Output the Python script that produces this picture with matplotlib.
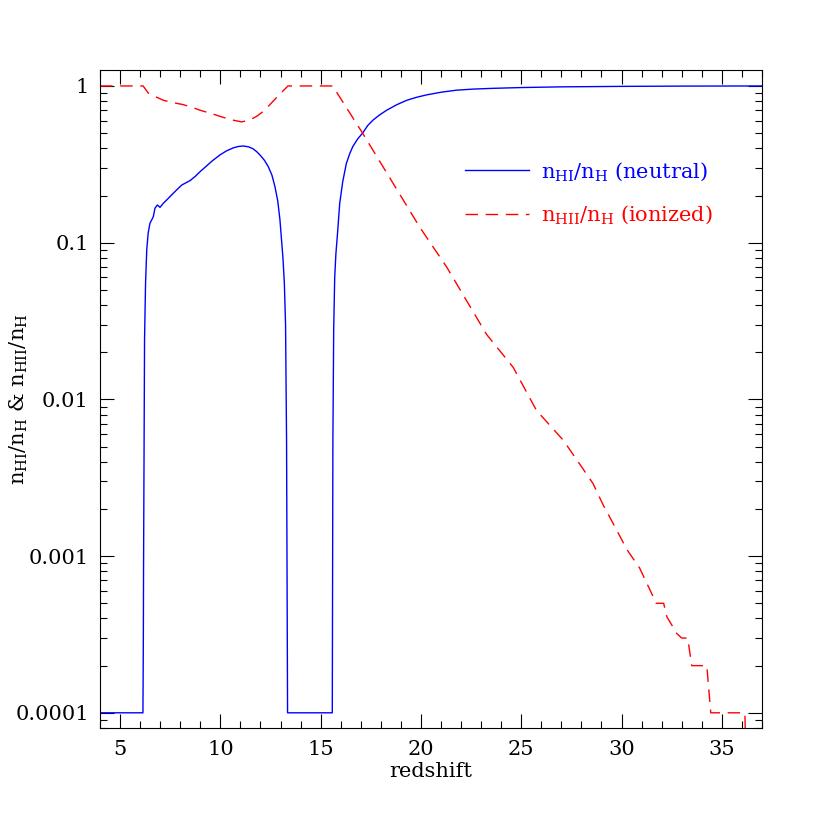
import numpy as np
import matplotlib
matplotlib.use('Agg')
import matplotlib.pyplot as plt
from matplotlib.ticker import FixedLocator, NullFormatter

plt.rcParams['font.family'] = 'DejaVu Serif'
plt.rcParams['mathtext.fontset'] = 'dejavuserif'

# neutral fraction n_HI/n_H
z_hi = [4.0, 6.14, 6.16, 6.17, 6.22, 6.27, 6.33, 6.40, 6.49, 6.58, 6.66, 6.74, 6.86,
        6.99, 7.15, 7.32, 7.49, 7.66, 7.85, 8.07, 8.28, 8.49, 8.75, 8.99, 9.3,
        9.6, 9.98, 10.3, 10.65, 10.9, 11.14, 11.4, 11.62, 11.81, 12.0, 12.2,
        12.39, 12.57, 12.72, 12.86, 12.97, 13.05, 13.12, 13.19, 13.25, 13.30, 13.35,
        15.58, 15.61, 15.65, 15.70, 15.76, 15.83, 15.95, 16.1, 16.28, 16.45,
        16.6, 16.85, 17.09, 17.35, 17.62, 17.95, 18.29, 18.8, 19.29, 19.8,
        20.28, 21.0, 21.77, 22.6, 23.5, 25.0, 27.0, 30.0, 33.0, 37.0]
f_hi = [1e-4, 1e-4, 3e-4, 8e-4, 0.024, 0.055, 0.090, 0.115, 0.133, 0.140, 0.147, 0.166, 0.174,
        0.168, 0.178, 0.187, 0.197, 0.207, 0.219, 0.233, 0.241, 0.249, 0.265, 0.284, 0.308,
        0.333, 0.363, 0.385, 0.403, 0.411, 0.414, 0.409, 0.398, 0.381, 0.36, 0.335,
        0.305, 0.27, 0.228, 0.185, 0.14, 0.104, 0.08, 0.055, 0.03, 0.0055, 1e-4,
        1e-4, 0.0055, 0.028, 0.060, 0.085, 0.110, 0.178, 0.245, 0.32, 0.37,
        0.41, 0.46, 0.50, 0.56, 0.607, 0.655, 0.70, 0.76, 0.81, 0.848,
        0.877, 0.912, 0.94, 0.955, 0.965, 0.977, 0.987, 0.994, 0.998, 1.0]

# ionized fraction n_HII/n_H
z_hii = [4.0, 6.15, 6.41, 6.8, 7.16, 7.6, 8.15, 8.6, 8.99, 9.5, 9.98, 10.5,
         11.06, 11.45, 11.81, 12.15, 12.47, 12.9, 13.37,
         15.6, 17.09, 19.95, 21.28, 23.27, 24.6, 25.76,
         27.09, 28.43, 28.58, 29.1, 29.6, 30.27, 30.9, 31.7, 31.72, 32.1,
         32.26, 32.76, 33.0, 33.3, 33.5, 33.75, 34.25, 34.45, 36.15, 36.2]
f_hii = [1.0, 1.0, 0.90, 0.85, 0.81, 0.785, 0.76, 0.73, 0.70, 0.67, 0.64, 0.61,
         0.59, 0.605, 0.64, 0.69, 0.76, 0.87, 1.0,
         1.0, 0.50, 0.125, 0.070, 0.026, 0.016, 0.0085,
         0.0055, 0.0031, 0.0029, 0.0021, 0.0016, 0.0011, 8.4e-4, 5.1e-4, 5e-4, 5e-4,
         4.1e-4, 3.2e-4, 3e-4, 3e-4, 2e-4, 2e-4, 2e-4, 1e-4, 1e-4, 5e-5]

fig = plt.figure(figsize=(8.3, 8.3), dpi=100)
ax = fig.add_axes([0.1205, 0.1229, 0.7975, 0.7928])

ax.plot(z_hi, f_hi, color='#0000ff', lw=1.0,
        label=r'$\mathrm{n_{HI}/n_H}$ (neutral)')
ax.plot(z_hii, f_hii, color='#ff0000', lw=1.0, dashes=(9, 5.5),
        label=r'$\mathrm{n_{HII}/n_H}$ (ionized)')

ax.set_yscale('log')
ax.set_xlim(4, 37)
ax.set_ylim(8.0e-5, 1.265)

ax.set_yticks([1e-4, 1e-3, 1e-2, 1e-1, 1])
ax.set_yticklabels(['0.0001', '0.001', '0.01', '0.1', '1'])
minor_y = [m * 10.0**e for e in range(-5, 1) for m in range(2, 10)]
ax.yaxis.set_minor_locator(FixedLocator(minor_y))
ax.yaxis.set_minor_formatter(NullFormatter())
ax.set_xticks([5, 10, 15, 20, 25, 30, 35])
ax.xaxis.set_minor_locator(FixedLocator(np.arange(4, 38, 1)))

ax.tick_params(which='both', direction='in', top=True, right=True, labelsize=15)
ax.tick_params(which='major', length=10, width=0.8)
ax.tick_params(which='minor', length=5, width=0.8)
ax.tick_params(axis='x', which='major', pad=9)
ax.tick_params(axis='y', which='major', pad=8)

ax.set_xlabel('redshift', fontsize=15)
ax.xaxis.set_label_coords(0.5, -0.052)
ax.set_ylabel(r'$\mathrm{n_{HI}/n_H}$ & $\mathrm{n_{HII}/n_H}$', fontsize=15)
ax.yaxis.set_label_coords(-0.106, 0.5)

leg = ax.legend(loc='upper left', bbox_to_anchor=(0.551, 0.863), frameon=False,
                fontsize=15, handlelength=3.1, handletextpad=0.55, labelspacing=1.0,
                borderpad=0, borderaxespad=0)
for text, line in zip(leg.get_texts(), leg.get_lines()):
    text.set_color(line.get_color())

fig.savefig('out.png', dpi=100)
